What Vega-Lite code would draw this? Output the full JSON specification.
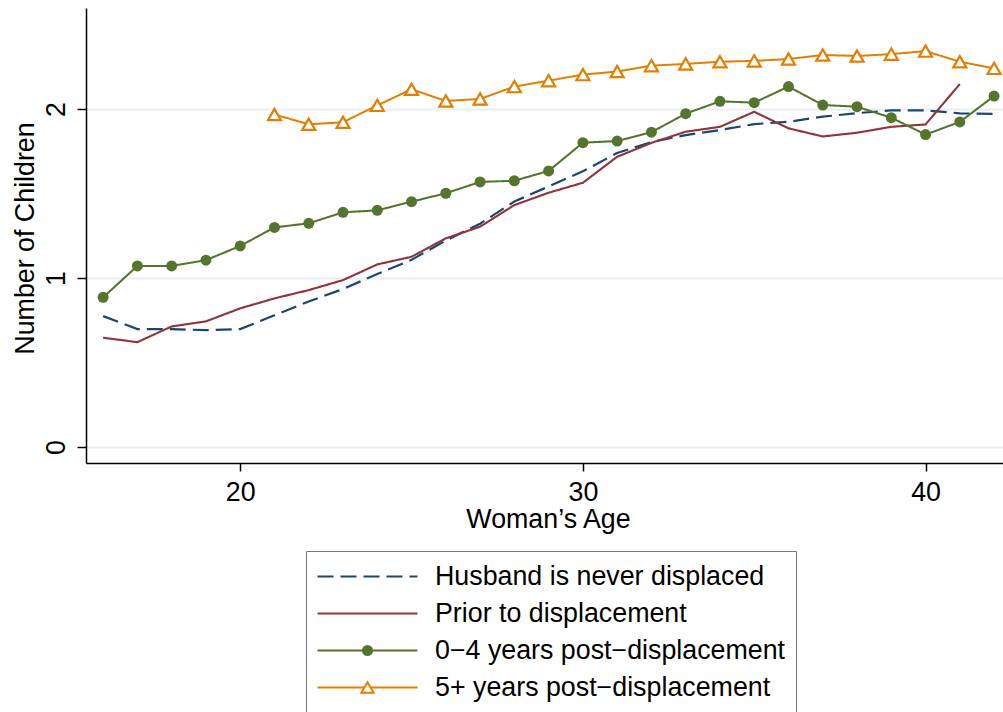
{
  "$schema": "https://vega.github.io/schema/vega-lite/v6.json",
  "width": 917,
  "height": 455,
  "autosize": {"type": "none"},
  "padding": {"left": 86, "top": 8, "right": 0, "bottom": 249},
  "background": "white",
  "config": {
    "font": "Liberation Sans",
    "view": {"stroke": null}
  },
  "resolve": {"scale": {"shape": "independent"}, "legend": {"shape": "independent"}},
  "data": {
    "values": [
      {"age": 16, "value": 0.775, "series": "Husband is never displaced"},
      {"age": 17, "value": 0.698, "series": "Husband is never displaced"},
      {"age": 18, "value": 0.698, "series": "Husband is never displaced"},
      {"age": 19, "value": 0.692, "series": "Husband is never displaced"},
      {"age": 20, "value": 0.698, "series": "Husband is never displaced"},
      {"age": 21, "value": 0.78, "series": "Husband is never displaced"},
      {"age": 22, "value": 0.862, "series": "Husband is never displaced"},
      {"age": 23, "value": 0.935, "series": "Husband is never displaced"},
      {"age": 24, "value": 1.024, "series": "Husband is never displaced"},
      {"age": 25, "value": 1.108, "series": "Husband is never displaced"},
      {"age": 26, "value": 1.222, "series": "Husband is never displaced"},
      {"age": 27, "value": 1.322, "series": "Husband is never displaced"},
      {"age": 28, "value": 1.453, "series": "Husband is never displaced"},
      {"age": 29, "value": 1.542, "series": "Husband is never displaced"},
      {"age": 30, "value": 1.632, "series": "Husband is never displaced"},
      {"age": 31, "value": 1.74, "series": "Husband is never displaced"},
      {"age": 32, "value": 1.805, "series": "Husband is never displaced"},
      {"age": 33, "value": 1.846, "series": "Husband is never displaced"},
      {"age": 34, "value": 1.876, "series": "Husband is never displaced"},
      {"age": 35, "value": 1.911, "series": "Husband is never displaced"},
      {"age": 36, "value": 1.925, "series": "Husband is never displaced"},
      {"age": 37, "value": 1.955, "series": "Husband is never displaced"},
      {"age": 38, "value": 1.976, "series": "Husband is never displaced"},
      {"age": 39, "value": 1.992, "series": "Husband is never displaced"},
      {"age": 40, "value": 1.992, "series": "Husband is never displaced"},
      {"age": 41, "value": 1.975, "series": "Husband is never displaced"},
      {"age": 42, "value": 1.971, "series": "Husband is never displaced"},
      {"age": 16, "value": 0.647, "series": "Prior to displacement"},
      {"age": 17, "value": 0.621, "series": "Prior to displacement"},
      {"age": 18, "value": 0.714, "series": "Prior to displacement"},
      {"age": 19, "value": 0.744, "series": "Prior to displacement"},
      {"age": 20, "value": 0.821, "series": "Prior to displacement"},
      {"age": 21, "value": 0.88, "series": "Prior to displacement"},
      {"age": 22, "value": 0.929, "series": "Prior to displacement"},
      {"age": 23, "value": 0.988, "series": "Prior to displacement"},
      {"age": 24, "value": 1.081, "series": "Prior to displacement"},
      {"age": 25, "value": 1.126, "series": "Prior to displacement"},
      {"age": 26, "value": 1.235, "series": "Prior to displacement"},
      {"age": 27, "value": 1.304, "series": "Prior to displacement"},
      {"age": 28, "value": 1.432, "series": "Prior to displacement"},
      {"age": 29, "value": 1.505, "series": "Prior to displacement"},
      {"age": 30, "value": 1.564, "series": "Prior to displacement"},
      {"age": 31, "value": 1.718, "series": "Prior to displacement"},
      {"age": 32, "value": 1.8, "series": "Prior to displacement"},
      {"age": 33, "value": 1.866, "series": "Prior to displacement"},
      {"age": 34, "value": 1.895, "series": "Prior to displacement"},
      {"age": 35, "value": 1.984, "series": "Prior to displacement"},
      {"age": 36, "value": 1.886, "series": "Prior to displacement"},
      {"age": 37, "value": 1.838, "series": "Prior to displacement"},
      {"age": 38, "value": 1.86, "series": "Prior to displacement"},
      {"age": 39, "value": 1.895, "series": "Prior to displacement"},
      {"age": 40, "value": 1.909, "series": "Prior to displacement"},
      {"age": 41, "value": 2.148, "series": "Prior to displacement"},
      {"age": 16, "value": 0.886, "series": "0−4 years post−displacement"},
      {"age": 17, "value": 1.072, "series": "0−4 years post−displacement"},
      {"age": 18, "value": 1.072, "series": "0−4 years post−displacement"},
      {"age": 19, "value": 1.106, "series": "0−4 years post−displacement"},
      {"age": 20, "value": 1.19, "series": "0−4 years post−displacement"},
      {"age": 21, "value": 1.3, "series": "0−4 years post−displacement"},
      {"age": 22, "value": 1.324, "series": "0−4 years post−displacement"},
      {"age": 23, "value": 1.389, "series": "0−4 years post−displacement"},
      {"age": 24, "value": 1.401, "series": "0−4 years post−displacement"},
      {"age": 25, "value": 1.452, "series": "0−4 years post−displacement"},
      {"age": 26, "value": 1.502, "series": "0−4 years post−displacement"},
      {"age": 27, "value": 1.569, "series": "0−4 years post−displacement"},
      {"age": 28, "value": 1.576, "series": "0−4 years post−displacement"},
      {"age": 29, "value": 1.634, "series": "0−4 years post−displacement"},
      {"age": 30, "value": 1.801, "series": "0−4 years post−displacement"},
      {"age": 31, "value": 1.811, "series": "0−4 years post−displacement"},
      {"age": 32, "value": 1.863, "series": "0−4 years post−displacement"},
      {"age": 33, "value": 1.973, "series": "0−4 years post−displacement"},
      {"age": 34, "value": 2.046, "series": "0−4 years post−displacement"},
      {"age": 35, "value": 2.038, "series": "0−4 years post−displacement"},
      {"age": 36, "value": 2.133, "series": "0−4 years post−displacement"},
      {"age": 37, "value": 2.024, "series": "0−4 years post−displacement"},
      {"age": 38, "value": 2.014, "series": "0−4 years post−displacement"},
      {"age": 39, "value": 1.949, "series": "0−4 years post−displacement"},
      {"age": 40, "value": 1.849, "series": "0−4 years post−displacement"},
      {"age": 41, "value": 1.924, "series": "0−4 years post−displacement"},
      {"age": 42, "value": 2.077, "series": "0−4 years post−displacement"},
      {"age": 21, "value": 1.968, "series": "5+ years post−displacement"},
      {"age": 22, "value": 1.91, "series": "5+ years post−displacement"},
      {"age": 23, "value": 1.922, "series": "5+ years post−displacement"},
      {"age": 24, "value": 2.022, "series": "5+ years post−displacement"},
      {"age": 25, "value": 2.117, "series": "5+ years post−displacement"},
      {"age": 26, "value": 2.048, "series": "5+ years post−displacement"},
      {"age": 27, "value": 2.06, "series": "5+ years post−displacement"},
      {"age": 28, "value": 2.133, "series": "5+ years post−displacement"},
      {"age": 29, "value": 2.168, "series": "5+ years post−displacement"},
      {"age": 30, "value": 2.204, "series": "5+ years post−displacement"},
      {"age": 31, "value": 2.222, "series": "5+ years post−displacement"},
      {"age": 32, "value": 2.257, "series": "5+ years post−displacement"},
      {"age": 33, "value": 2.267, "series": "5+ years post−displacement"},
      {"age": 34, "value": 2.28, "series": "5+ years post−displacement"},
      {"age": 35, "value": 2.285, "series": "5+ years post−displacement"},
      {"age": 36, "value": 2.296, "series": "5+ years post−displacement"},
      {"age": 37, "value": 2.32, "series": "5+ years post−displacement"},
      {"age": 38, "value": 2.314, "series": "5+ years post−displacement"},
      {"age": 39, "value": 2.325, "series": "5+ years post−displacement"},
      {"age": 40, "value": 2.343, "series": "5+ years post−displacement"},
      {"age": 41, "value": 2.28, "series": "5+ years post−displacement"},
      {"age": 42, "value": 2.241, "series": "5+ years post−displacement"}
    ]
  },
  "encoding": {
    "x": {
      "field": "age",
      "type": "quantitative",
      "scale": {"domain": [15.5, 42.26], "nice": false, "zero": false},
      "axis": {
        "values": [20, 30, 40],
        "title": "Woman’s Age",
        "grid": false,
        "domainColor": "black",
        "domainWidth": 1.5,
        "tickColor": "black",
        "tickWidth": 1.5,
        "tickSize": 8,
        "labelFontSize": 26.8,
        "labelColor": "black",
        "labelBaseline": "alphabetic",
        "labelPadding": 29,
        "labelFlush": false,
        "labelOverlap": false,
        "titleFontSize": 26.8,
        "titleFontWeight": "normal",
        "titleColor": "black",
        "titleBaseline": "alphabetic",
        "titleAlign": "center",
        "titleX": 462,
        "titleY": 64
      }
    },
    "y": {
      "field": "value",
      "type": "quantitative",
      "scale": {"domain": [-0.094, 2.598], "nice": false, "zero": false},
      "axis": {
        "values": [0, 1, 2],
        "title": "Number of Children",
        "grid": true,
        "gridColor": "#e8eff2",
        "gridWidth": 2,
        "domainColor": "black",
        "domainWidth": 1.5,
        "tickColor": "black",
        "tickWidth": 1.5,
        "tickSize": 9,
        "labelFontSize": 26.8,
        "labelColor": "black",
        "labelAngle": -90,
        "labelAlign": "center",
        "labelBaseline": "alphabetic",
        "labelPadding": 13,
        "labelFlush": false,
        "labelOverlap": false,
        "titleFontSize": 26.8,
        "titleFontWeight": "normal",
        "titleColor": "black",
        "titleAngle": -90,
        "titleBaseline": "alphabetic",
        "titleAlign": "center",
        "titleX": -53,
        "titleY": 230
      }
    }
  },
  "layer": [
    {
      "mark": {"type": "line", "clip": true},
      "encoding": {
        "color": {
          "field": "series",
          "type": "nominal",
          "scale": {
            "domain": ["Husband is never displaced", "Prior to displacement", "0−4 years post−displacement", "5+ years post−displacement"],
            "range": ["#1a476f", "#90353b", "#55752f", "#e37e00"]
          },
          "legend": {
            "title": null,
            "orient": "none",
            "legendX": 220,
            "legendY": 543,
            "direction": "vertical",
            "symbolType": "stroke",
            "symbolSize": 10000,
            "labelFontSize": 26.8,
            "labelColor": "black",
            "labelOffset": 16,
            "labelLimit": 600,
            "labelBaseline": "middle",
            "clipHeight": 31,
            "rowPadding": 6,
            "padding": 10,
            "strokeColor": "#777777",
            "fillColor": "white"
          }
        },
        "strokeDash": {
          "field": "series",
          "type": "nominal",
          "scale": {
            "domain": ["Husband is never displaced", "Prior to displacement", "0−4 years post−displacement", "5+ years post−displacement"],
            "range": [[16, 7], [1, 0], [1, 0], [1, 0]]
          }
        },
        "strokeWidth": {
          "field": "series",
          "type": "nominal",
          "scale": {
            "domain": ["Husband is never displaced", "Prior to displacement", "0−4 years post−displacement", "5+ years post−displacement"],
            "range": [2.2, 2, 2.2, 1.2]
          }
        }
      }
    },
    {
      "transform": [{"filter": {"field": "series", "equal": "0−4 years post−displacement"}}],
      "mark": {"type": "point", "filled": true, "color": "#55752f", "size": 121, "opacity": 1},
      "encoding": {
        "shape": {
          "field": "series",
          "type": "nominal",
          "scale": {"domain": ["0−4 years post−displacement"], "range": ["circle"]},
          "legend": {
            "title": null,
            "orient": "none",
            "legendX": 220,
            "legendY": 617,
            "direction": "vertical",
            "symbolSize": 121,
            "symbolOffset": 38.1,
            "labelFontSize": 26.8,
            "labelExpr": "''",
            "labelOffset": 16,
            "labelBaseline": "middle",
            "clipHeight": 31,
            "rowPadding": 6,
            "padding": 10
          }
        }
      }
    },
    {
      "transform": [{"filter": {"field": "series", "equal": "5+ years post−displacement"}}],
      "mark": {"type": "point", "filled": false, "color": "#e37e00", "fill": "white", "strokeWidth": 2.2, "size": 170, "opacity": 1},
      "encoding": {
        "shape": {
          "field": "series",
          "type": "nominal",
          "scale": {"domain": ["5+ years post−displacement"], "range": ["triangle-up"]},
          "legend": {
            "title": null,
            "orient": "none",
            "legendX": 220,
            "legendY": 654,
            "direction": "vertical",
            "symbolSize": 150,
            "symbolOffset": 38.1,
            "symbolStrokeWidth": 2,
            "labelFontSize": 26.8,
            "labelExpr": "''",
            "labelOffset": 16,
            "labelBaseline": "middle",
            "clipHeight": 31,
            "rowPadding": 6,
            "padding": 10
          }
        }
      }
    }
  ]
}
